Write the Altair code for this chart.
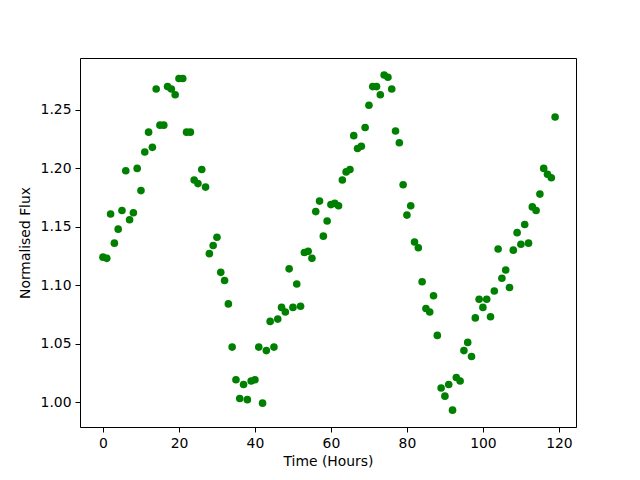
import altair as alt
import pandas as pd

hours = list(range(120))
flux = [
    1.124, 1.123, 1.161, 1.136, 1.148, 1.164, 1.198, 1.156, 1.162, 1.200,
    1.181, 1.214, 1.231, 1.218, 1.268, 1.237, 1.237, 1.270, 1.268, 1.263,
    1.277, 1.277, 1.231, 1.231, 1.190, 1.187, 1.199, 1.184, 1.127, 1.134,
    1.141, 1.111, 1.104, 1.084, 1.047, 1.019, 1.003, 1.015, 1.002, 1.018,
    1.019, 1.047, 0.999, 1.044, 1.069, 1.047, 1.071, 1.081, 1.077, 1.114,
    1.081, 1.101, 1.082, 1.128, 1.129, 1.123, 1.163, 1.172, 1.142, 1.155,
    1.169, 1.170, 1.168, 1.190, 1.197, 1.199, 1.228, 1.217, 1.219, 1.235,
    1.254, 1.270, 1.270, 1.263, 1.280, 1.278, 1.268, 1.232, 1.222, 1.186,
    1.160, 1.168, 1.137, 1.132, 1.103, 1.080, 1.077, 1.091, 1.057, 1.012,
    1.005, 1.015, 0.993, 1.021, 1.018, 1.044, 1.051, 1.039, 1.072, 1.088,
    1.081, 1.088, 1.073, 1.095, 1.131, 1.106, 1.113, 1.098, 1.130, 1.145,
    1.135, 1.152, 1.136, 1.167, 1.164, 1.178, 1.200, 1.195, 1.192, 1.244,
]
x_ticks = [0, 20, 40, 60, 80, 100, 120]
y_ticks = [1.00, 1.05, 1.10, 1.15, 1.20, 1.25]

df = pd.DataFrame({"hours": hours, "flux": flux})

x_scale = alt.Scale(domain=[-6.05, 124.5], nice=False, zero=False)
y_scale = alt.Scale(domain=[0.9786, 1.2945], nice=False, zero=False)

axis_common = dict(
    domainColor="black",
    tickColor="black",
    tickSize=5,
    labelPadding=4,
    labelFont="DejaVu Sans",
    labelFontSize=13.9,
    labelColor="black",
    titleFont="DejaVu Sans",
    titleFontSize=13.9,
    titleFontWeight="normal",
    titleColor="black",
    grid=False,
)

points = (
    alt.Chart(df)
    .mark_circle(size=58, opacity=1, color="#008000")
    .encode(
        x=alt.X(
            "hours:Q",
            title="Time (Hours)",
            scale=x_scale,
            axis=alt.Axis(values=x_ticks, format="d", titlePadding=5, **axis_common),
        ),
        y=alt.Y(
            "flux:Q",
            title="Normalised Flux",
            scale=y_scale,
            axis=alt.Axis(values=y_ticks, format=".2f", titlePadding=8, **axis_common),
        ),
    )
)

frame = (
    alt.Chart(df)
    .mark_circle(opacity=0)
    .encode(
        x=alt.X(
            "hours:Q",
            scale=x_scale,
            axis=alt.Axis(orient="top", labels=False, ticks=False, title=None,
                          domainColor="black", grid=False),
        ),
        y=alt.Y(
            "flux:Q",
            scale=y_scale,
            axis=alt.Axis(orient="right", labels=False, ticks=False, title=None,
                          domainColor="black", grid=False),
        ),
    )
)

chart = (
    alt.layer(points, frame)
    .resolve_axis(x="independent", y="independent")
    .properties(
        width=496,
        height=369,
        autosize=alt.AutoSizeParams(type="none"),
        padding={"left": 72, "top": 50, "right": 56, "bottom": 45},
    )
    .configure_view(strokeWidth=0)
    .configure(background="white")
)

chart.save("out.html", embed_options={"renderer": "svg", "actions": False})
